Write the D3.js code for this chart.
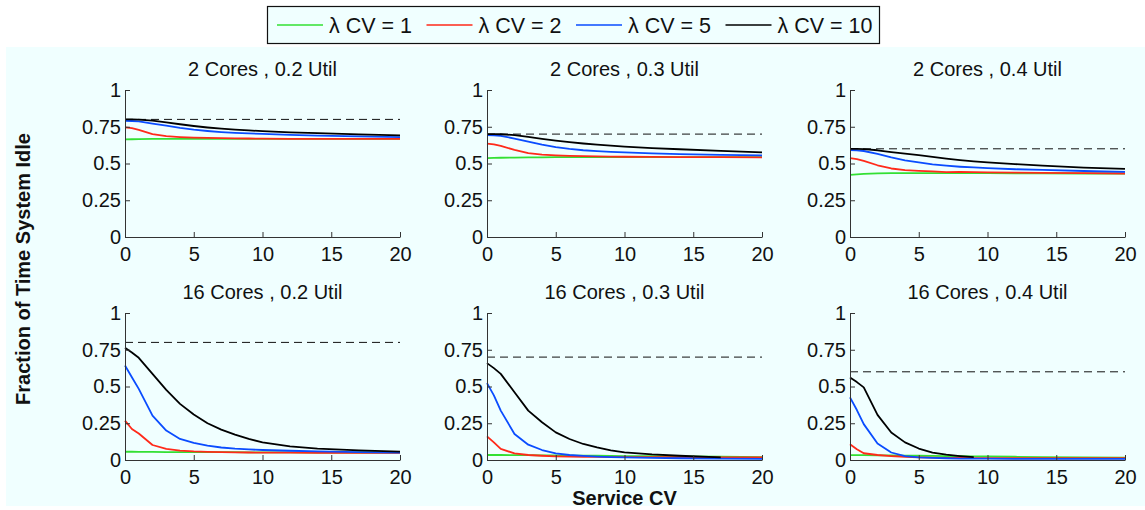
<!DOCTYPE html>
<html>
<head>
<meta charset="utf-8">
<script src="https://cdn.jsdelivr.net/npm/d3@7"></script>
<style>
  html, body { margin: 0; padding: 0; background: #ffffff; }
  svg { display: block; font-family: "Liberation Sans", Arial, Helvetica, sans-serif; }
</style>
</head>
<body>
<svg id="chart" width="1145" height="510"></svg>
<script>
// Service CV sample points shared by every curve
const serviceCV = [0, 0.5, 1, 2, 3, 4, 5, 6, 7, 8, 9, 10, 12, 14, 17, 20];

// Arrival CV settings (legend order)
const arrivalCV = [1, 2, 5, 10];
const seriesColors = ["#33e033", "#ff2a1a", "#0a4cff", "#000000"];

// Panel definitions
const cores = [2, 2, 2, 16, 16, 16];
const utils = [0.2, 0.3, 0.4, 0.2, 0.3, 0.4];

const xTicks = [0, 5, 10, 15, 20];
const yTicks = [0, 0.25, 0.5, 0.75, 1];
const yTickLabels = ["0", "0.25", "0.5", "0.75", "1"];

// Fraction of time the system is idle, per panel, per arrival CV
const idle2c02 = [
  [0.664, 0.665, 0.666, 0.667, 0.667, 0.667, 0.667, 0.667, 0.667, 0.667, 0.667, 0.667, 0.667, 0.667, 0.667, 0.667],
  [0.746, 0.740, 0.728, 0.700, 0.686, 0.680, 0.676, 0.674, 0.672, 0.671, 0.670, 0.669, 0.668, 0.668, 0.667, 0.667],
  [0.790, 0.789, 0.786, 0.772, 0.757, 0.742, 0.730, 0.721, 0.714, 0.709, 0.705, 0.701, 0.695, 0.690, 0.684, 0.679],
  [0.800, 0.800, 0.799, 0.792, 0.780, 0.767, 0.755, 0.745, 0.737, 0.730, 0.725, 0.720, 0.712, 0.706, 0.698, 0.692]
];
const idle2c03 = [
  [0.537, 0.538, 0.539, 0.540, 0.541, 0.542, 0.543, 0.543, 0.543, 0.543, 0.543, 0.543, 0.543, 0.543, 0.543, 0.543],
  [0.635, 0.630, 0.620, 0.592, 0.570, 0.560, 0.555, 0.552, 0.550, 0.548, 0.547, 0.546, 0.545, 0.544, 0.543, 0.542],
  [0.693, 0.692, 0.688, 0.670, 0.648, 0.628, 0.611, 0.599, 0.590, 0.584, 0.579, 0.575, 0.569, 0.564, 0.559, 0.555],
  [0.700, 0.700, 0.699, 0.693, 0.681, 0.668, 0.656, 0.645, 0.636, 0.628, 0.621, 0.615, 0.605, 0.597, 0.586, 0.575]
];
const idle2c04 = [
  [0.423, 0.426, 0.429, 0.433, 0.434, 0.434, 0.434, 0.434, 0.434, 0.434, 0.434, 0.434, 0.433, 0.433, 0.432, 0.432],
  [0.537, 0.530, 0.518, 0.488, 0.466, 0.455, 0.450, 0.446, 0.441, 0.443, 0.442, 0.440, 0.438, 0.436, 0.434, 0.432],
  [0.591, 0.590, 0.585, 0.566, 0.541, 0.522, 0.507, 0.494, 0.485, 0.478, 0.473, 0.468, 0.461, 0.456, 0.449, 0.443],
  [0.600, 0.600, 0.598, 0.590, 0.578, 0.567, 0.557, 0.545, 0.533, 0.523, 0.514, 0.507, 0.496, 0.485, 0.472, 0.463]
];
const idle16c02 = [
  [0.056, 0.056, 0.055, 0.055, 0.054, 0.054, 0.054, 0.053, 0.053, 0.053, 0.052, 0.052, 0.052, 0.051, 0.051, 0.050],
  [0.268, 0.211, 0.180, 0.102, 0.075, 0.064, 0.058, 0.055, 0.053, 0.052, 0.051, 0.050, 0.050, 0.049, 0.048, 0.048],
  [0.643, 0.563, 0.484, 0.302, 0.200, 0.143, 0.116, 0.098, 0.085, 0.077, 0.072, 0.068, 0.063, 0.059, 0.054, 0.050],
  [0.763, 0.731, 0.695, 0.586, 0.477, 0.382, 0.309, 0.250, 0.207, 0.173, 0.143, 0.120, 0.093, 0.078, 0.065, 0.057]
];
const idle16c03 = [
  [0.034, 0.034, 0.034, 0.033, 0.033, 0.032, 0.031, 0.030, 0.030, 0.029, 0.028, 0.027, 0.026, 0.024, 0.022, 0.020],
  [0.161, 0.120, 0.075, 0.045, 0.034, 0.029, 0.025, 0.023, 0.022, 0.021, 0.020, 0.020, 0.019, 0.019, 0.018, 0.018],
  [0.523, 0.440, 0.336, 0.177, 0.104, 0.068, 0.045, 0.034, 0.028, 0.023, 0.020, 0.018, 0.015, 0.012, 0.009, 0.007],
  [0.659, 0.625, 0.586, 0.461, 0.336, 0.257, 0.188, 0.143, 0.109, 0.086, 0.066, 0.052, 0.038, 0.029, 0.018, null]
];
const idle16c04 = [
  [0.033, 0.033, 0.033, 0.032, 0.031, 0.030, 0.029, 0.028, 0.027, 0.026, 0.025, 0.024, 0.022, 0.020, 0.018, 0.016],
  [0.107, 0.073, 0.046, 0.034, 0.027, 0.022, 0.018, 0.016, 0.015, 0.014, 0.013, 0.013, 0.012, 0.012, 0.012, 0.012],
  [0.426, 0.340, 0.244, 0.112, 0.051, 0.027, 0.018, 0.014, 0.012, 0.010, 0.009, 0.009, 0.008, 0.008, 0.007, 0.007],
  [0.562, 0.530, 0.494, 0.307, 0.187, 0.120, 0.078, 0.050, 0.036, 0.027, 0.020, null, null, null, null, null]
];
const panelData = [idle2c02, idle2c03, idle2c04, idle16c02, idle16c03, idle16c04];

// ---- layout ----
const svg = d3.select("#chart");
const FONT = 20;
const colLeft = [125, 487, 850];
const plotW = 275;
const rowTop = [90, 313];
const plotH = 147;

// figure background
svg.append("rect").attr("x", 6).attr("y", 47).attr("width", 1139).attr("height", 459)
  .attr("fill", "#f0ffff");

panelData.forEach((series, i) => {
  const col = i % 3, row = Math.floor(i / 3);
  const x0 = colLeft[col], y0 = rowTop[row];
  const x = d3.scaleLinear().domain([0, 20]).range([x0, x0 + plotW]);
  const y = d3.scaleLinear().domain([0, 1]).range([y0 + plotH, y0]);
  const g = svg.append("g");

  // title
  g.append("text")
    .attr("x", x0 + plotW / 2).attr("y", y0 - 14)
    .attr("text-anchor", "middle").attr("font-size", FONT).attr("fill", "#111")
    .text(`${cores[i]} Cores , ${utils[i]} Util`);

  // idle-time bound 1 - util
  const bound = 1 - utils[i];
  g.append("line")
    .attr("x1", x(0)).attr("x2", x(20)).attr("y1", y(bound)).attr("y2", y(bound))
    .attr("stroke", "#111").attr("stroke-width", 1).attr("stroke-dasharray", "8,5");

  // curves
  const line = d3.line()
    .defined(d => d[1] !== null)
    .x(d => x(d[0])).y(d => y(d[1]));
  series.forEach((vals, k) => {
    g.append("path")
      .datum(serviceCV.map((c, j) => [c, vals[j]]))
      .attr("d", line).attr("fill", "none")
      .attr("stroke", seriesColors[k]).attr("stroke-width", 1.8)
      .attr("stroke-linejoin", "round");
  });

  // axes (ticks pointing inward)
  const xAxis = d3.axisBottom(x).tickValues(xTicks).tickFormat(d3.format("d"))
    .tickSizeInner(-5).tickSizeOuter(0).tickPadding(10);
  const yAxis = d3.axisLeft(y).tickValues(yTicks).tickFormat((d, j) => yTickLabels[j])
    .tickSizeInner(-5).tickSizeOuter(0).tickPadding(4);
  const gx = g.append("g").attr("transform", `translate(0,${y0 + plotH})`).call(xAxis);
  const gy = g.append("g").attr("transform", `translate(${x0},0)`).call(yAxis);
  [gx, gy].forEach(a => {
    a.selectAll("path, line").attr("stroke", "#333").attr("stroke-width", 1);
    a.selectAll("text").attr("font-size", FONT).attr("fill", "#111")
      .attr("font-family", "Liberation Sans, Arial, sans-serif");
  });
});

// axis titles
svg.append("text")
  .attr("x", colLeft[1] + plotW / 2).attr("y", 505)
  .attr("text-anchor", "middle").attr("font-size", FONT).attr("font-weight", "bold").attr("fill", "#111")
  .text("Service CV");
svg.append("text")
  .attr("transform", "translate(30,269) rotate(-90)")
  .attr("text-anchor", "middle").attr("font-size", FONT).attr("font-weight", "bold").attr("fill", "#111")
  .text("Fraction of Time System Idle");

// legend
const legend = svg.append("g");
legend.append("rect").attr("x", 267.5).attr("y", 6.5).attr("width", 612).attr("height", 37)
  .attr("fill", "#f0ffff").attr("stroke", "#111").attr("stroke-width", 1.2);
const legendX = [277, 426.5, 576, 725.5];
arrivalCV.forEach((cv, k) => {
  legend.append("line")
    .attr("x1", legendX[k]).attr("x2", legendX[k] + 46).attr("y1", 25).attr("y2", 25)
    .attr("stroke", seriesColors[k]).attr("stroke-width", 1.5);
  legend.append("text")
    .attr("x", legendX[k] + 52).attr("y", 32.5)
    .attr("font-size", 21.5).attr("fill", "#111")
    .text(`λ CV = ${cv}`);
});
</script>
</body>
</html>
